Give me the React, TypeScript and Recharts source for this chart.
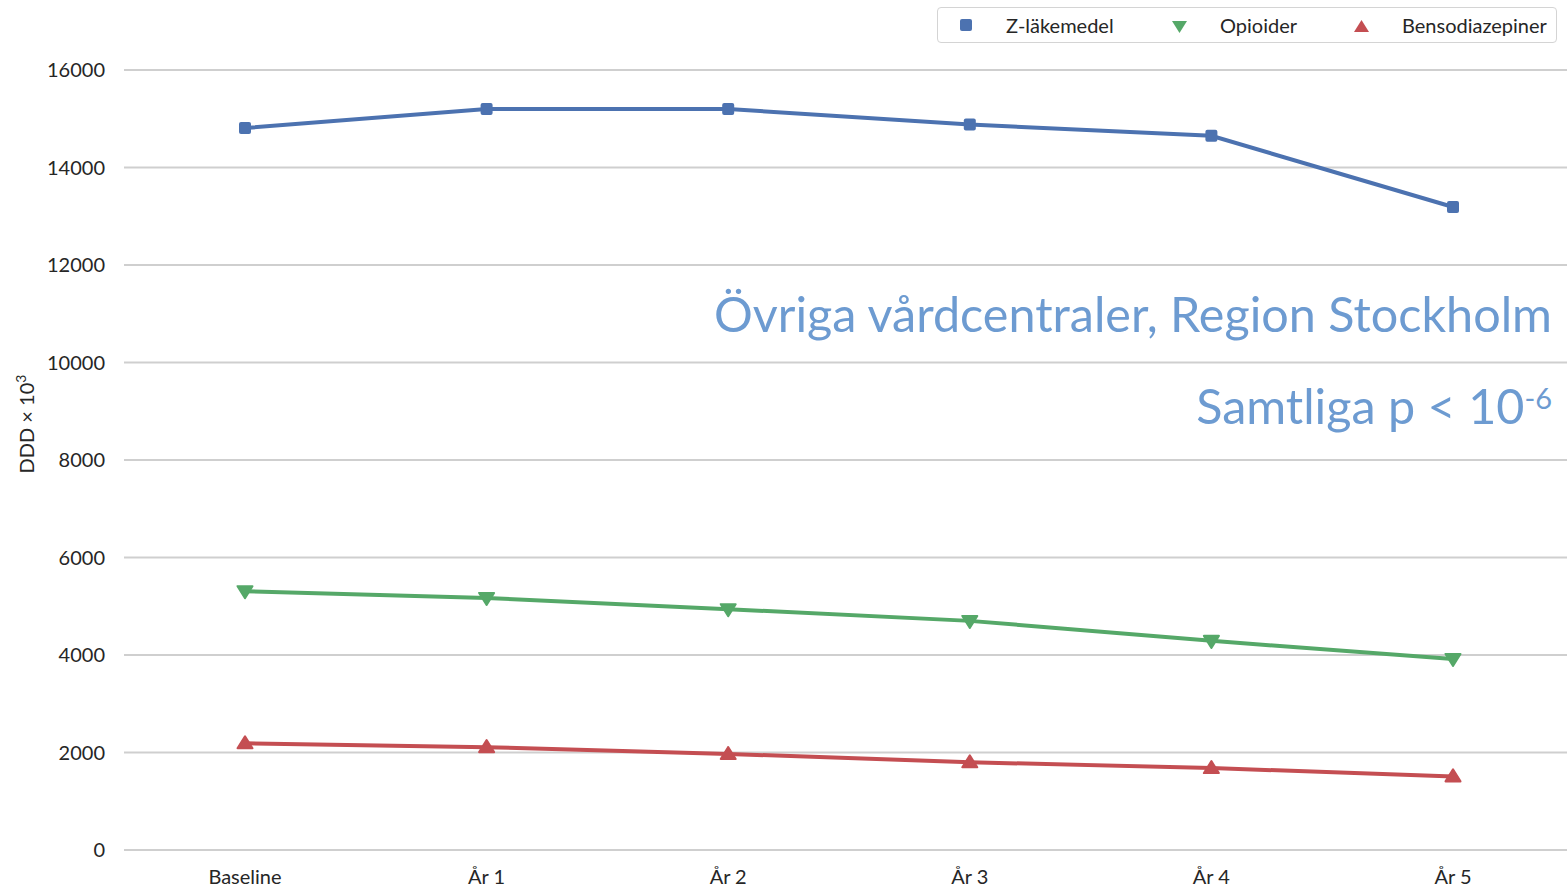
import { LineChart, Line, XAxis, YAxis, CartesianGrid } from 'recharts';

const categories = ['Baseline', 'År 1', 'År 2', 'År 3', 'År 4', 'År 5'];
const zLakemedel = [14810, 15200, 15200, 14880, 14650, 13190];
const opioider = [5310, 5170, 4940, 4700, 4290, 3920];
const bensodiazepiner = [2190, 2110, 1970, 1800, 1680, 1510];
const yTicks = [0, 2000, 4000, 6000, 8000, 10000, 12000, 14000, 16000];

const BLUE = '#4c72b0';
const GREEN = '#55a868';
const RED = '#c44e52';
const FONT = 'Lato, "Noto Sans", sans-serif';

const data = categories.map((cat, i) => ({
  cat,
  z: zLakemedel[i],
  o: opioider[i],
  b: bensodiazepiner[i]
}));

function SquareDot({ cx, cy }: any) {
  return <rect x={cx - 6} y={cy - 6} width={12} height={12} rx={2} fill={BLUE} />;
}

function DownDot({ cx, cy }: any) {
  return (
    <polygon
      points={`${cx - 7.5},${cy - 5} ${cx + 7.5},${cy - 5} ${cx},${cy + 7}`}
      fill={GREEN}
      stroke={GREEN}
      strokeWidth={2}
      strokeLinejoin='round'
    />
  );
}

function UpDot({ cx, cy }: any) {
  return (
    <polygon
      points={`${cx - 7.5},${cy + 5} ${cx + 7.5},${cy + 5} ${cx},${cy - 7}`}
      fill={RED}
      stroke={RED}
      strokeWidth={2}
      strokeLinejoin='round'
    />
  );
}

function LegendBox() {
  const item = (icon: any, label: string, w: number) => (
    <div style={{ display: 'flex', alignItems: 'center', width: w }}>
      <svg width={40} height={20} style={{ marginRight: 18 }}>
        {icon}
      </svg>
      <span>{label}</span>
    </div>
  );
  return (
    <div
      style={{
        position: 'absolute',
        top: 7,
        left: 937,
        width: 620,
        display: 'flex',
        alignItems: 'center',
        height: 36,
        border: '1.5px solid #d4d4d4',
        borderRadius: 4,
        paddingLeft: 10,
        fontFamily: FONT,
        fontSize: 20,
        color: '#262626',
        boxSizing: 'border-box',
        background: '#fff'
      }}
    >
      {item(<rect x={12} y={4} width={12} height={12} rx={2} fill={BLUE} />, 'Z-läkemedel', 214)}
      {item(<polygon points='10,6 25,6 17.5,18' fill={GREEN} />, 'Opioider', 182)}
      {item(<polygon points='10,17 25,17 17.5,5' fill={RED} />, 'Bensodiazepiner', 210)}
    </div>
  );
}

export default function App() {
  return (
    <div style={{ position: 'absolute', left: 0, top: 0, width: 1567, height: 887, background: '#fff' }}>
      <LineChart
        width={1567}
        height={887}
        data={data}
        margin={{ top: 70, right: 0, bottom: 0, left: 0 }}
      >
        <CartesianGrid vertical={false} stroke='#cfcfcf' strokeWidth={2} />
        <XAxis
          dataKey='cat'
          height={37}
          padding={{ left: 121, right: 114 }}
          axisLine={false}
          tickLine={false}
          tickSize={0}
          tickMargin={20}
          tick={{ fill: '#262626', fontSize: 20, fontFamily: FONT }}
        />
        <YAxis
          width={124}
          domain={[0, 16000]}
          ticks={yTicks}
          axisLine={false}
          tickLine={false}
          tickSize={0}
          tickMargin={19}
          tick={{ fill: '#262626', fontSize: 20, fontFamily: FONT }}
        />
        <Line
          dataKey='z'
          name='Z-läkemedel'
          stroke={BLUE}
          strokeWidth={4}
          dot={<SquareDot />}
          activeDot={false}
          isAnimationActive={false}
        />
        <Line
          dataKey='o'
          name='Opioider'
          stroke={GREEN}
          strokeWidth={4}
          dot={<DownDot />}
          activeDot={false}
          isAnimationActive={false}
        />
        <Line
          dataKey='b'
          name='Bensodiazepiner'
          stroke={RED}
          strokeWidth={4}
          dot={<UpDot />}
          activeDot={false}
          isAnimationActive={false}
        />
      </LineChart>
      <LegendBox />
      <div
        style={{
          position: 'absolute',
          left: 25,
          top: 424,
          transform: 'translate(-50%, -50%) rotate(-90deg)',
          fontFamily: FONT,
          fontSize: 20,
          color: '#262626',
          whiteSpace: 'nowrap'
        }}
      >
        DDD × 10<sup style={{ fontSize: 14 }}>3</sup>
      </div>
      <div
        style={{
          position: 'absolute',
          right: 15,
          top: 284,
          fontFamily: FONT,
          fontSize: 48.5,
          color: '#6d9bd1',
          whiteSpace: 'nowrap'
        }}
      >
        Övriga vårdcentraler, Region Stockholm
      </div>
      <div
        style={{
          position: 'absolute',
          right: 15,
          top: 376,
          fontFamily: FONT,
          fontSize: 48.5,
          color: '#6d9bd1',
          whiteSpace: 'nowrap'
        }}
      >
        Samtliga p &lt; 10<sup style={{ fontSize: 29, verticalAlign: 'top', position: 'relative', top: 4 }}>-6</sup>
      </div>
    </div>
  );
}
